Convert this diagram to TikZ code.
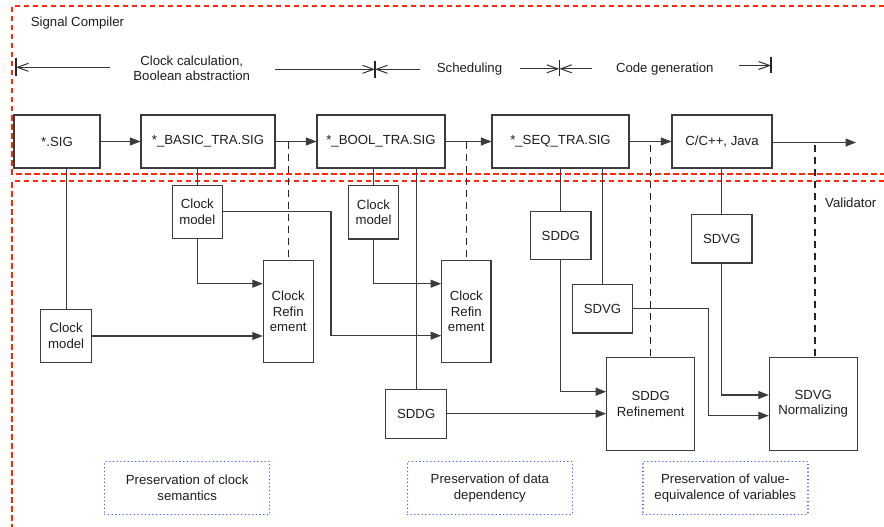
\documentclass[tikz,border=0pt]{standalone}
\usepackage{fontspec}
\setmainfont{Liberation Sans}
\usetikzlibrary{arrows.meta,calc}
\definecolor{redd}{RGB}{255,40,10}
\definecolor{blued}{RGB}{40,80,255}
\definecolor{ln}{RGB}{60,60,60}
\begin{document}
\begin{tikzpicture}[x=1pt,y=-1pt,
  every node/.style={font=\fontsize{13.2}{15.5}\selectfont, text=black!88, inner sep=0pt, align=center},
  box/.style 2 args={draw=ln, line width=1.1pt, minimum width=#1, minimum height=#2},
  conn/.style={draw=ln, line width=1.1pt},
  arr/.style={conn, -{Triangle[length=10.5pt,width=8pt]}},
  dsh/.style={draw=black!85, line width=1.1pt, dash pattern=on 7pt off 5pt},
  reddash/.style={draw=redd, line width=1.5pt, dash pattern=on 5.5pt off 3.5pt},
  pres/.style={draw=blued, line width=1.4pt, line cap=round, dash pattern=on 0.1pt off 3.6pt, minimum width=165pt, minimum height=52.6pt},
  ph/.style={draw=black!80, line width=1pt, -{Straight Barb[length=11pt,width=8pt]}},
  tick/.style={draw=black!85, line width=1.1pt}]
\useasboundingbox (0,0) rectangle (884,527);
\fill[white] (0,0) rectangle (884,527);

% red dashed frames
\draw[reddash] (884,6) -- (12,6) -- (12,174) -- (884,174);
\draw[reddash] (884,181) -- (12,181) -- (12,527);

\node[anchor=west] (sc) at (30.7,22.7) {Signal Compiler};
\node[anchor=west] (val) at (825,202.3) {Validator};

% phases
\node (p1t) at (191.7,68.3) {Clock calculation,\\Boolean abstraction};
\node (p2t) at (469.5,69) {Scheduling};
\node (p3t) at (664.8,69) {Code generation};
\coordinate (t1a) at (16,58); \coordinate (t1b) at (16,76);
\coordinate (t2a) at (375,61); \coordinate (t2b) at (375,78);
\coordinate (t3a) at (559.3,60); \coordinate (t3b) at (559.3,76);
\coordinate (t4a) at (771,57); \coordinate (t4b) at (771,73);
\draw[tick] (t1a) -- (t1b);
\draw[tick] (t2a) -- (t2b);
\draw[tick] (t3a) -- (t3b);
\draw[tick] (t4a) -- (t4b);
\coordinate (a1s) at (110,67.3); \coordinate (a1e) at (16,67.3);
\coordinate (a2s) at (275,69.3); \coordinate (a2e) at (375,69.3);
\coordinate (a3s) at (420,69.3); \coordinate (a3e) at (375,69.3);
\coordinate (a4s) at (520,68.8); \coordinate (a4e) at (559.3,68.8);
\coordinate (a5s) at (591.7,68.8); \coordinate (a5e) at (559.3,68.8);
\coordinate (a6s) at (739,65.5); \coordinate (a6e) at (771,65.5);
\draw[ph] (a1s) -- (a1e);
\draw[ph] (a2s) -- (a2e);
\draw[ph] (a3s) -- (a3e);
\draw[ph] (a4s) -- (a4e);
\draw[ph] (a5s) -- (a5e);
\draw[ph] (a6s) -- (a6e);

% top row
\node[box={86pt}{53pt}] (sig) at (57,141.5) {*.SIG};
\node[box={134pt}{53pt}] (basic) at (208,141.5) {*\_BASIC\_TRA.SIG};
\node[box={128pt}{53pt}] (bool) at (381,141.5) {*\_BOOL\_TRA.SIG};
\node[box={137pt}{53pt}] (seq) at (560.5,141.5) {*\_SEQ\_TRA.SIG};
\node[box={100pt}{53pt}] (code) at (722,141.5) {C/C++, Java};
\coordinate (out) at (856,142.5);
\draw[arr] (sig) -- (basic);
\draw[arr] (basic) -- (bool);
\draw[arr] (bool) -- (seq);
\draw[arr] (seq) -- (code);
\draw[arr] (code.east |- out) -- (out);

% lower boxes
\node[box={50pt}{53.3pt}] (cmA) at (197.3,211.7) {Clock\\model};
\node[box={49.6pt}{53.3pt}] (cmB) at (373.5,212.3) {Clock\\model};
\node[box={51pt}{53.4pt}] (cmC) at (66.2,336) {Clock\\model};
\node[box={49.7pt}{102pt}] (cr1) at (288.2,311.7) {Clock\\Refin\\ement};
\node[box={49.3pt}{102pt}] (cr2) at (466.3,311.7) {Clock\\Refin\\ement};
\node[box={61pt}{48.7pt}] (sddgB) at (416.2,413.7) {SDDG};
\node[box={60.3pt}{48.4pt}] (sddgA) at (560.8,235.5) {SDDG};
\node[box={60.4pt}{48.3pt}] (sdvgA) at (602.5,308.8) {SDVG};
\node[box={60.3pt}{48.3pt}] (sdvgB) at (721.8,238.8) {SDVG};
\node[box={88pt}{93.4pt}] (sddgR) at (650.7,404) {SDDG\\Refinement};
\node[box={87.7pt}{93.4pt}] (sdvgN) at (813.2,404) {SDVG\\Normalizing};

% vertical feeds
\draw[conn] (sig.south -| cmC.north) -- (cmC.north);
\draw[conn] (basic.south -| cmA.north) -- (cmA.north);
\draw[conn] (bool.south -| cmB.north) -- (cmB.north);
\draw[conn] (bool.south -| sddgB.north) -- (sddgB.north);
\draw[conn] (seq.south -| sddgA.north) -- (sddgA.north);
\draw[conn] (seq.south -| sdvgA.north) -- (sdvgA.north);
\draw[conn] (code.south -| sdvgB.north) -- (sdvgB.north);

% clock refinement inputs
\draw[arr] (cmA.south) |- (cr1.west |- 0,283.7);
\draw[arr] (cmC.east) -- (cmC.east -| cr1.west);
\draw[arr] (cmA.east) -| (331,335.7) -- (cr2.west |- 0,335.7);
\draw[arr] (cmB.south) |- (cr2.west |- 0,283.7);

% data dependency
\draw[arr] (sddgB.east) -- (sddgB.east -| sddgR.west);
\draw[arr] (sddgA.south) |- (sddgR.west |- 0,391.7);

% value equivalence
\draw[arr] (sdvgA.east) -| (708.3,415.7) -- (sdvgN.west |- 0,415.7);
\draw[arr] (sdvgB.south) |- (sdvgN.west |- 0,395);

% dashed validator links
\draw[dsh] (cr1.north |- basic.east) -- (cr1.north);
\draw[dsh] (cr2.north |- bool.east) -- (cr2.north);
\draw[dsh] (sddgR.north |- 0,145) -- (sddgR.north);
\draw[dsh] (815,145) -- (815,357.3);

% preservation boxes
\node[pres] (pr1) at (187.2,488) {Preservation of clock\\semantics};
\node[pres] (pr2) at (489.8,488) {Preservation of data\\dependency};
\node[pres] (pr3) at (725.3,488) {Preservation of value-\\equivalence of variables};
\end{tikzpicture}
\end{document}
